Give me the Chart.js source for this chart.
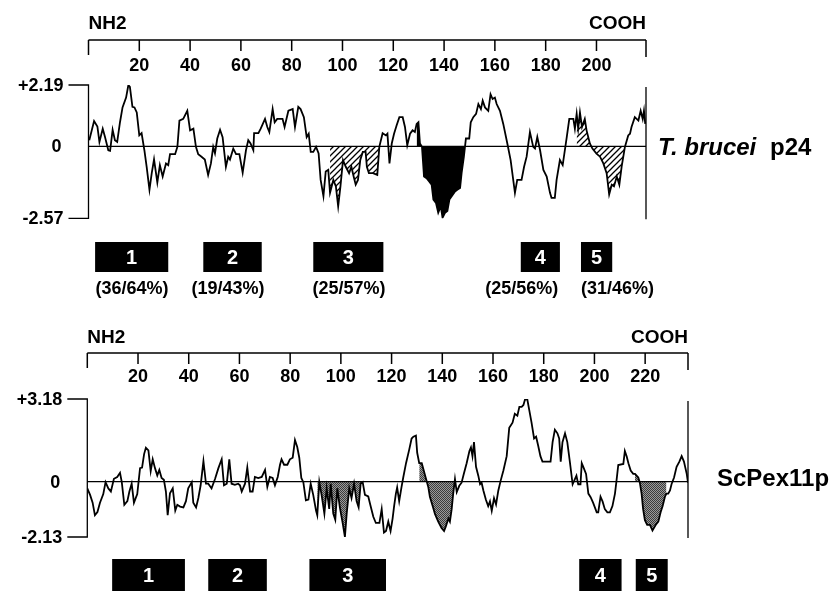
<!DOCTYPE html>
<html>
<head>
<meta charset="utf-8">
<script src="https://cdn.jsdelivr.net/npm/chart.js@4.4.1/dist/chart.umd.min.js"></script>
<style>
  html, body { margin: 0; padding: 0; background: #fff; }
  #wrap { position: relative; width: 835px; height: 593px; overflow: hidden; }
  canvas { position: absolute; left: 0; }
  #topChart { top: 0; }
  #bottomChart { top: 312px; }
</style>
</head>
<body>
<div id="wrap">
  <canvas id="topChart" width="835" height="312"></canvas>
  <canvas id="bottomChart" width="835" height="281"></canvas>
</div>
<script>
// T. brucei p24 hydropathy profile (residue, value)
const topResidue = [
  0.3, 2.2, 3.5, 4.3, 5.6, 6.5, 7.8, 8.5, 9.5, 10.4,
  11.3, 12.4, 13.4, 14.8, 15.7, 16.3, 17.3, 18.1, 19.0, 20.0,
  20.9, 22.0, 22.9, 24.0, 24.9, 25.8, 27.1, 28.1, 29.2, 30.5,
  31.4, 32.1, 34.1, 35.0, 35.8, 37.3, 38.9, 40.0, 41.3, 42.3,
  43.2, 44.5, 45.8, 47.1, 48.2, 49.1, 49.8, 50.7, 51.8, 52.8,
  54.1, 55.0, 55.7, 57.0, 58.1, 59.4, 60.7, 62.0, 62.9, 63.8,
  64.9, 65.2, 66.9, 67.8, 69.5, 70.4, 71.2, 72.5, 73.3, 74.3,
  76.4, 77.2, 78.7, 80.4, 81.3, 82.6, 83.5, 84.8, 85.9, 86.7,
  87.5, 88.5, 89.6, 90.6, 91.4, 92.5, 93.4, 94.4, 95.1, 96.4,
  97.4, 98.3, 99.2, 100.2, 101.3, 102.6, 103.5, 104.4, 105.2, 106.1,
  107.0, 108.0, 109.1, 109.6, 110.4, 112.0, 113.7, 114.5, 115.8, 117.1,
  117.7, 118.5, 119.4, 120.3, 121.3, 122.4, 123.7, 124.6, 125.5, 126.6,
  127.6, 128.5, 129.2, 129.9, 130.5, 131.3, 132.1, 133.1, 134.2, 135.1,
  135.8, 136.8, 137.7, 138.7, 139.4, 140.4, 141.3, 142.1, 143.0, 144.3,
  145.2, 146.3, 146.9, 147.8, 148.6, 149.9, 150.5, 151.5, 152.6, 153.5,
  154.5, 155.2, 156.1, 157.4, 158.3, 159.1, 160.0, 160.7, 162.0, 163.3,
  164.9, 166.2, 167.9, 168.8, 170.5, 171.5, 172.5, 173.8, 175.1, 175.8,
  176.7, 177.8, 179.1, 180.4, 181.7, 182.3, 183.6, 184.3, 185.6, 186.7,
  188.3, 189.3, 190.9, 191.5, 192.2, 192.8, 193.5, 194.3, 195.4, 196.1,
  197.4, 198.4, 200.0, 201.4, 202.7, 204.0, 205.0, 206.0, 206.9, 208.0,
  209.0, 209.9, 211.2, 212.5, 213.2, 213.8, 215.1, 216.5, 217.4, 218.2,
  218.7, 219.2
];
const topValue = [
  0.22, 0.90, 0.71, 0.16, 0.63, 0.33, -0.14, -0.16, 0.59, 0.22,
  0.16, 0.86, 1.39, 1.74, 2.19, 2.12, 1.41, 1.39, 1.21, 0.39,
  0.47, -0.14, -0.73, -1.55, -0.96, -0.47, -1.29, -0.67, -1.08, -0.61,
  -0.67, -0.28, -0.28, -0.02, 0.92, 0.98, 1.27, 0.57, 0.63, -0.02,
  -0.28, -0.37, -0.47, -1.02, -0.61, -0.02, -0.25, 0.28, 0.59, 0.33,
  -0.73, -0.37, -0.47, -0.08, -0.28, -0.28, -0.94, -0.14, 0.22, 0.10,
  -0.14, 0.47, 0.47, 0.63, 0.98, 0.69, 0.51, 1.33, 0.86, 0.98,
  0.98, 0.69, 1.27, 1.33, 0.69, 1.41, 1.33, 1.04, 0.33, 0.45,
  -0.20, -0.20, -0.02, -0.25, -1.20, -1.78, -0.90, -0.84, -1.66, -1.20,
  -1.43, -2.14, -1.43, -0.49, -0.73, -0.96, -0.73, -1.08, -1.37, -1.20,
  -0.49, -0.20, -0.20, -0.73, -0.96, -0.96, -1.02, -0.02, 0.47, 0.39,
  0.45, -0.61, 0.10, 0.45, 0.74, 1.04, 1.04, 0.69, 0.04, 0.45,
  0.57, 0.51, 0.80, 0.86, 0.10, -0.02, -1.08, -1.14, -1.26, -1.37,
  -1.90, -2.02, -2.37, -2.14, -2.55, -2.37, -2.31, -1.90, -1.78, -1.61,
  -1.55, -1.49, -0.96, -0.37, 0.28, 0.28, 0.86, 1.04, 1.16, 1.51,
  1.33, 1.63, 1.39, 1.27, 1.86, 1.69, 1.74, 1.51, 1.27, 0.80,
  0.10, -0.49, -1.66, -1.20, -1.20, -0.73, -0.37, 0.51, -0.02, -0.08,
  0.33, -0.14, -0.84, -1.08, -1.66, -1.84, -1.84, -1.20, -0.49, -0.67,
  0.33, 0.98, 0.98, 0.63, 1.16, 0.63, 1.21, 0.69, 0.98, 0.57,
  0.10, -0.08, -0.26, -0.37, -0.61, -0.96, -1.72, -1.37, -1.43, -1.08,
  -1.37, -0.73, -0.02, 0.39, 0.45, 0.69, 1.04, 0.92, 1.27, 0.98,
  1.27, 0.80
];

// ScPex11p hydropathy profile (residue, value)
const bottomResidue = [
  0.0, 1.1, 2.1, 3.0, 4.0, 5.0, 6.3, 7.2, 8.3, 9.3,
  10.5, 11.8, 12.9, 13.6, 14.6, 15.8, 16.6, 17.5, 18.4, 19.7,
  20.8, 21.6, 22.4, 23.1, 24.1, 25.0, 25.8, 26.7, 27.6, 28.4,
  29.3, 30.2, 31.0, 31.7, 32.6, 33.7, 34.7, 35.5, 36.6, 37.9,
  38.9, 39.8, 41.2, 41.8, 42.9, 43.8, 44.7, 45.8, 46.8, 47.7,
  49.0, 50.4, 51.7, 53.0, 53.9, 55.0, 56.0, 56.9, 58.2, 59.5,
  60.2, 60.9, 62.2, 63.1, 64.2, 65.2, 66.1, 67.4, 68.8, 70.1,
  71.0, 72.0, 73.1, 74.0, 75.1, 76.0, 76.6, 77.6, 78.9, 79.9,
  81.0, 81.9, 82.8, 83.6, 84.4, 85.2, 86.2, 87.2, 88.1, 89.1,
  90.2, 90.7, 91.5, 92.4, 93.5, 94.4, 95.4, 96.0, 97.0, 97.8,
  98.6, 99.6, 100.7, 101.6, 102.3, 103.3, 104.2, 105.2, 106.2, 107.0,
  107.8, 108.6, 109.5, 110.8, 111.7, 112.8, 113.8, 115.2, 116.1, 117.0,
  117.8, 118.7, 119.6, 120.4, 121.0, 121.7, 122.2, 123.0, 123.9, 124.6,
  125.7, 127.0, 127.9, 128.6, 129.6, 130.1, 130.9, 131.9, 132.5, 133.6,
  134.5, 135.1, 136.2, 137.1, 138.4, 139.7, 140.7, 141.4, 142.4, 143.0,
  143.7, 144.3, 145.0, 145.7, 146.7, 147.6, 148.5, 149.6, 150.7, 151.3,
  151.9, 152.5, 153.3, 154.2, 154.9, 155.5, 156.2, 157.2, 158.1, 158.8,
  159.5, 160.4, 161.2, 162.1, 163.0, 164.1, 165.4, 166.4, 167.7, 168.6,
  169.6, 170.4, 171.3, 172.0, 172.6, 173.5, 174.3, 175.2, 176.2, 177.0,
  177.8, 178.7, 179.5, 181.1, 182.7, 183.5, 184.4, 185.4, 186.1, 186.7,
  187.4, 188.4, 189.3, 190.3, 191.4, 192.3, 192.9, 193.6, 194.5, 195.0,
  195.6, 196.7, 197.6, 198.5, 199.5, 200.9, 201.5, 202.4, 203.2, 204.1,
  205.1, 206.1, 207.1, 208.1, 208.7, 209.4, 211.4, 212.0, 212.7, 213.4,
  214.3, 215.3, 216.0, 217.3, 217.9, 218.6, 219.2, 219.9, 220.8, 221.9,
  222.9, 223.5, 224.2, 225.2, 226.1, 226.9, 227.8, 228.4, 229.1, 229.8,
  230.4, 231.4, 232.4, 233.5, 234.4, 235.3, 236.4, 236.9
];
const bottomValue = [
  -0.26, -0.51, -0.81, -1.29, -1.17, -0.81, -0.48, -0.02, -0.26, -0.38,
  0.11, 0.18, 0.34, -0.02, -0.89, -0.75, -0.38, -0.08, -0.81, -0.48,
  0.52, 0.54, 1.06, 1.30, 1.20, 0.41, 0.86, 0.52, 0.24, 0.45,
  0.14, 0.07, -0.38, -1.29, -0.45, -0.26, -1.11, -0.89, -0.96, -0.99,
  -0.75, -0.26, -0.02, -0.81, -0.99, -0.63, -0.14, 0.79, -0.08, -0.08,
  -0.26, 0.11, 0.52, 0.86, -0.14, -0.08, 0.86, -0.08, -0.12, -0.08,
  -0.14, -0.38, -0.08, 0.54, -0.38, -0.38, 0.18, 0.14, 0.18, 0.45,
  -0.20, 0.18, 0.14, -0.14, 0.18, 0.65, 0.86, 0.65, 0.65, 0.86,
  0.92, 1.60, 1.33, 0.92, 0.14, -0.02, -0.72, -0.69, -0.08, -0.51,
  -1.11, -1.29, -0.02, -0.51, -1.23, -0.26, -1.05, -0.08, -1.23, -1.47,
  -0.26, -0.99, -1.59, -2.13, -1.23, -0.26, -0.63, -0.08, -0.75, -0.99,
  -0.08, -0.02, -0.51, -0.57, -0.93, -1.35, -1.59, -1.59, -1.06, -1.96,
  -1.90, -1.54, -1.90, -1.42, -0.94, -0.46, -0.22, -0.75, -0.22, 0.16,
  0.71, 1.25, 1.66, 1.73, 1.77, 1.11, 0.71, 0.71, 0.50, 0.10,
  -0.22, -0.58, -0.94, -1.24, -1.54, -1.78, -1.90, -1.72, -1.42, -1.54,
  -1.06, -0.46, 0.10, -0.40, -0.16, -0.04, 0.30, 0.71, 1.18, 1.32,
  0.98, 1.52, 0.57, 0.23, -0.10, -0.04, -0.34, -0.70, -0.94, -0.76,
  -1.12, -0.64, -0.88, -0.34, 0.03, 0.43, 0.98, 2.07, 2.27, 2.61,
  2.54, 2.88, 2.88, 2.95, 3.15, 3.18, 2.75, 2.27, 1.66, 1.73,
  1.39, 0.98, 0.77, 0.77, 0.77, 1.52, 2.00, 1.86, 1.66, 0.77,
  1.52, 1.86, 1.52, 0.77, -0.10, 0.10, 0.23, -0.10, -0.10, 0.71,
  0.57, 0.30, -0.46, -0.60, -0.82, -1.18, -1.18, -0.58, -0.76, -1.06,
  -1.18, -1.18, -0.94, -0.46, 0.03, 0.64, 0.68, 1.18, 0.98, 0.71,
  0.43, 0.30, 0.30, 0.16, -0.04, -0.46, -1.06, -1.48, -1.66, -1.66,
  -1.88, -1.78, -1.66, -1.54, -1.18, -0.94, -0.58, -0.46, -0.46, -0.34,
  -0.10, 0.16, 0.57, 0.77, 0.98, 0.77, 0.30, -0.04
];

// axis ticks and labels
const topTicks = [20, 40, 60, 80, 100, 120, 140, 160, 180, 200];
const bottomTicks = [20, 40, 60, 80, 100, 120, 140, 160, 180, 200, 220];
const topYTicks = [2.19, 0, -2.57];
const topYLabels = ['+2.19', '0', '-2.57'];
const bottomYTicks = [3.18, 0, -2.13];
const bottomYLabels = ['+3.18', '0', '-2.13'];

// shaded stretches (residue ranges)
const topHatched = [[95.1, 114.5], [192.2, 211.2]];
const topSolid = [[129.2, 148.6]];
const bottomStippled = [[90.7, 108.6], [130.9, 145.0], [216.0, 228.4]];

// conserved blocks under each profile
const blockNames = ['1', '2', '3', '4', '5'];
const topBlocks = [[2.6, 31.4], [45.2, 68.2], [88.5, 116.1], [170.2, 185.6], [193.9, 206.2]];
const topIdentity = ['(36/64%)', '(19/43%)', '(25/57%)', '(25/56%)', '(31/46%)'];
const topIdentityAt = [17.1, 54.9, 102.6, 170.6, 208.3];
const bottomBlocks = [[9.8, 38.5], [47.7, 70.8], [87.6, 117.8], [194.0, 210.7], [216.3, 228.9]];

const FONT = '"Liberation Sans", Arial, Helvetica, sans-serif';

function hatchPattern(ctx) {
  const c = document.createElement('canvas');
  c.width = 6; c.height = 6;
  const g = c.getContext('2d');
  g.strokeStyle = '#000';
  g.lineWidth = 1.3;
  g.beginPath();
  g.moveTo(0, 6); g.lineTo(6, 0);
  g.moveTo(-1, 1); g.lineTo(1, -1);
  g.moveTo(5, 7); g.lineTo(7, 5);
  g.stroke();
  return ctx.createPattern(c, 'repeat');
}

function stipplePattern(ctx) {
  const c = document.createElement('canvas');
  c.width = 2; c.height = 2;
  const g = c.getContext('2d');
  g.fillStyle = '#9a9a9a';
  g.fillRect(0, 0, 2, 2);
  g.fillStyle = '#3c3c3c';
  g.fillRect(0, 0, 1, 1);
  g.fillRect(1, 1, 1, 1);
  return ctx.createPattern(c, 'repeat');
}

function points(res, val) {
  return res.map((r, i) => ({ x: r, y: val[i] }));
}

function stretch(res, val, range) {
  const out = [];
  res.forEach((r, i) => {
    if (r >= range[0] - 1e-6 && r <= range[1] + 1e-6) out.push({ x: r, y: val[i] });
  });
  return out;
}

function fillSets(res, val, ranges, paint) {
  return ranges.map(rg => ({
    data: stretch(res, val, rg),
    borderWidth: 0,
    borderColor: 'rgba(0,0,0,0)',
    backgroundColor: paint,
    fill: 'origin',
    pointRadius: 0,
    order: 2
  }));
}

const figurePlugin = {
  id: 'figure',
  afterDatasetsDraw(chart, args, o) {
    const ctx = chart.ctx, a = chart.chartArea, ys = chart.scales.y;
    const y0 = ys.getPixelForValue(0);
    ctx.save();
    ctx.strokeStyle = '#000';
    ctx.lineWidth = 1.2;
    ctx.beginPath();
    ctx.moveTo(a.left, y0); ctx.lineTo(a.right, y0);
    ctx.stroke();
    ctx.restore();
  },
  afterDraw(chart, args, o) {
    const ctx = chart.ctx, a = chart.chartArea;
    const xs = chart.scales.x, ys = chart.scales.y;
    const x0 = xs.getPixelForValue(xs.min), x1 = xs.getPixelForValue(xs.max);
    ctx.save();
    ctx.strokeStyle = '#000';
    ctx.fillStyle = '#000';

    // residue ruler
    ctx.lineWidth = 1.5;
    ctx.beginPath();
    ctx.moveTo(x0, o.rulerY); ctx.lineTo(x1, o.rulerY);
    ctx.moveTo(x0, o.rulerY); ctx.lineTo(x0, o.rulerY + 15);
    ctx.moveTo(x1, o.rulerY); ctx.lineTo(x1, o.rulerY + 17);
    o.ticks.forEach(t => {
      const x = xs.getPixelForValue(t);
      ctx.moveTo(x, o.rulerY); ctx.lineTo(x, o.rulerY + 11);
    });
    ctx.stroke();
    ctx.font = 'bold 18px ' + FONT;
    ctx.textAlign = 'center';
    ctx.textBaseline = 'middle';
    o.ticks.forEach(t => ctx.fillText(String(t), xs.getPixelForValue(t), o.rulerY + o.labelGap));
    ctx.font = 'bold 19px ' + FONT;
    ctx.textAlign = 'left';
    ctx.fillText('NH2', x0, o.rulerY - o.endGap);
    ctx.textAlign = 'right';
    ctx.fillText('COOH', x1, o.rulerY - o.endGap);

    // value bracket and right edge
    ctx.lineWidth = 1.3;
    ctx.beginPath();
    ctx.moveTo(a.left - 20, a.top); ctx.lineTo(a.left, a.top);
    ctx.lineTo(a.left, a.bottom); ctx.lineTo(a.left - 20, a.bottom);
    ctx.moveTo(a.right, a.top + 2); ctx.lineTo(a.right, a.bottom + 1);
    ctx.stroke();
    ctx.font = 'bold 18px ' + FONT;
    ctx.textAlign = 'right';
    o.yTicks.forEach((v, i) => {
      ctx.fillText(o.yLabels[i], a.left - (v === 0 ? 27 : 25), ys.getPixelForValue(v) + 1);
    });

    // title on the right
    ctx.textAlign = 'left';
    ctx.font = (o.italic ? 'italic bold 24px ' : 'bold 24px ') + FONT;
    ctx.fillText(o.title, o.titleX, o.titleY);
    if (o.title2) {
      ctx.font = 'bold 24px ' + FONT;
      ctx.fillText(o.title2, o.title2X, o.titleY);
    }

    // conserved blocks
    o.blocks.forEach((b, i) => {
      const xa = xs.getPixelForValue(b[0]), xb = xs.getPixelForValue(b[1]);
      ctx.fillStyle = '#000';
      ctx.fillRect(xa, o.blockY, xb - xa, o.blockH);
      ctx.fillStyle = '#fff';
      ctx.font = 'bold 20px ' + FONT;
      ctx.textAlign = 'center';
      ctx.fillText(blockNames[i], (xa + xb) / 2, o.blockY + o.blockH / 2 + 1);
    });
    if (o.identity) {
      ctx.fillStyle = '#000';
      ctx.font = 'bold 18px ' + FONT;
      ctx.textAlign = 'center';
      o.identity.forEach((t, i) => ctx.fillText(t, xs.getPixelForValue(o.identityAt[i]), o.identityY));
    }
    ctx.restore();
  }
};

function makeChart(id, cfg) {
  const ctx = document.getElementById(id).getContext('2d');
  return new Chart(ctx, {
    type: 'line',
    data: {
      datasets: [
        {
          data: points(cfg.res, cfg.val),
          borderColor: '#000',
          borderWidth: 1.8,
          fill: false,
          pointRadius: 0,
          tension: 0,
          order: 0
        }
      ].concat(cfg.fills)
    },
    options: {
      responsive: false,
      animation: false,
      devicePixelRatio: 1,
      layout: { padding: cfg.padding },
      scales: {
        x: { type: 'linear', min: 0, max: cfg.xMax, display: false },
        y: { type: 'linear', min: cfg.yMin, max: cfg.yMax, display: false }
      },
      plugins: {
        legend: { display: false },
        tooltip: { enabled: false },
        figure: cfg.figure
      }
    },
    plugins: [figurePlugin]
  });
}

const topCtx = document.getElementById('topChart').getContext('2d');
const bottomCtx = document.getElementById('bottomChart').getContext('2d');

makeChart('topChart', {
  res: topResidue,
  val: topValue,
  xMax: 219.5,
  yMin: -2.57,
  yMax: 2.19,
  padding: { left: 88.5, right: 189, top: 85, bottom: 93.7 },
  fills: fillSets(topResidue, topValue, topHatched, hatchPattern(topCtx))
    .concat(fillSets(topResidue, topValue, topSolid, '#000')),
  figure: {
    rulerY: 40, labelGap: 26, endGap: 16, ticks: topTicks,
    yTicks: topYTicks, yLabels: topYLabels,
    title: 'T. brucei', italic: true, title2: 'p24', titleX: 658, title2X: 770, titleY: 148,
    blocks: topBlocks, blockY: 242, blockH: 30,
    identity: topIdentity, identityAt: topIdentityAt, identityY: 289
  }
});

makeChart('bottomChart', {
  res: bottomResidue,
  val: bottomValue,
  xMax: 236.9,
  yMin: -2.13,
  yMax: 3.18,
  padding: { left: 87.3, right: 147, top: 87, bottom: 56 },
  fills: fillSets(bottomResidue, bottomValue, bottomStippled, stipplePattern(bottomCtx)),
  figure: {
    rulerY: 41, labelGap: 24, endGap: 15, ticks: bottomTicks,
    yTicks: bottomYTicks, yLabels: bottomYLabels,
    title: 'ScPex11p', italic: false, titleX: 717, titleY: 167,
    blocks: bottomBlocks, blockY: 247, blockH: 32
  }
});
</script>
</body>
</html>
